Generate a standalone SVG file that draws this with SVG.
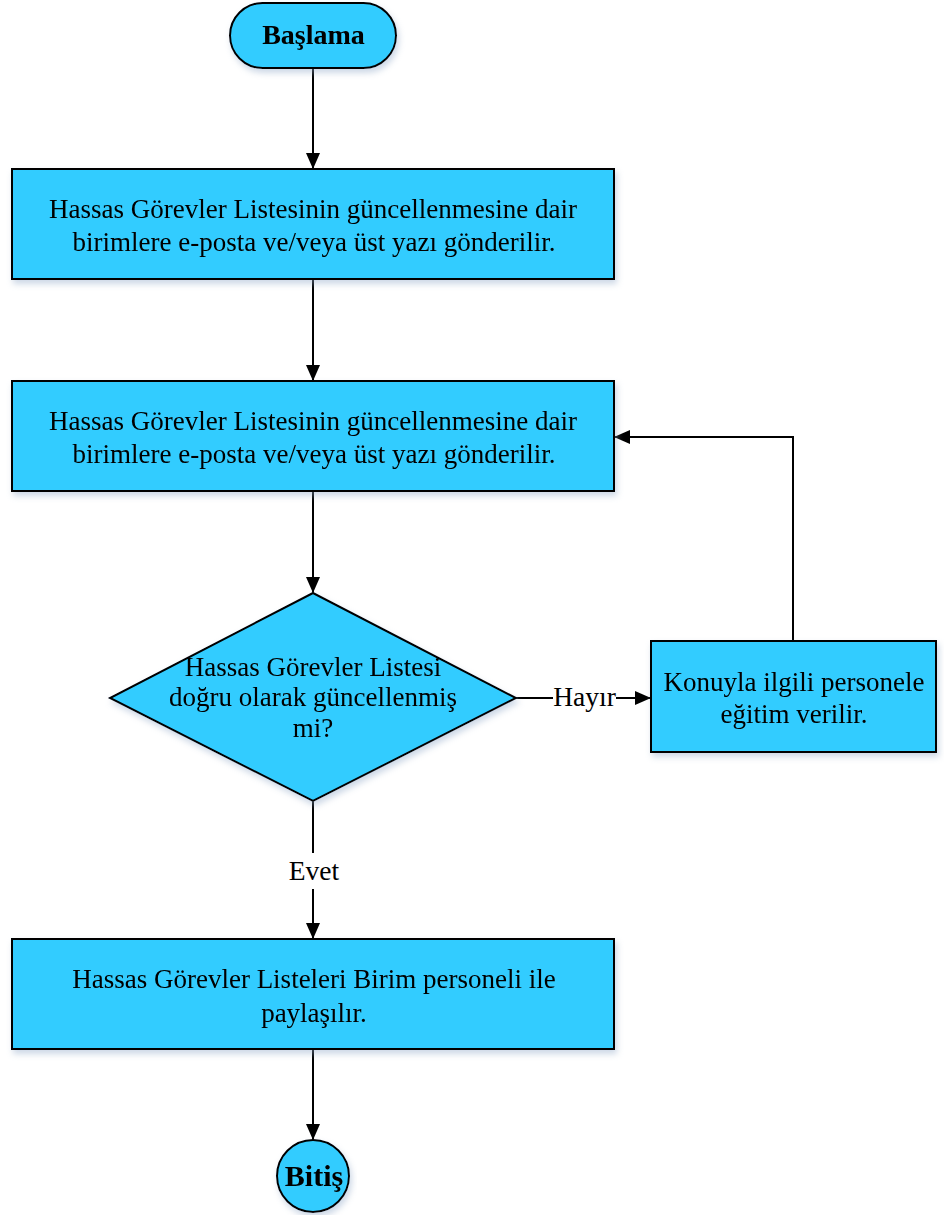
<svg xmlns="http://www.w3.org/2000/svg" width="944" height="1215" viewBox="0 0 944 1215">
<style>
.n{fill:#33CCFF;stroke:#000;stroke-width:2}
.t{font-family:"Liberation Serif",serif;font-size:27px;fill:#000;text-anchor:middle}
.b{font-weight:bold;font-size:28px}
.e{font-weight:bold;font-size:30px}
.c{fill:none;stroke:#000;stroke-width:2}
.l{font-family:"Liberation Serif",serif;font-size:27.5px;fill:#000;text-anchor:middle}
</style>
<defs>
<marker id="a" markerWidth="16" markerHeight="14" refX="15" refY="7" orient="auto" markerUnits="userSpaceOnUse" viewBox="0 0 16 14"><path d="M0,0 L16,7 L0,14 z" fill="#000"/></marker>
<filter id="s" x="-10%" y="-10%" width="120%" height="130%"><feDropShadow dx="2" dy="4" stdDeviation="3" flood-color="#8fa8c8" flood-opacity="0.45"/></filter>
</defs>
<g id="connectors">
<line class="c" x1="313" y1="68" x2="313" y2="168" marker-end="url(#a)"/>
<line class="c" x1="313" y1="279" x2="313" y2="380" marker-end="url(#a)"/>
<line class="c" x1="313" y1="491" x2="313" y2="592" marker-end="url(#a)"/>
<polyline class="c" points="516,698 553,698"/>
<polyline class="c" points="616,698 650,698" marker-end="url(#a)"/>
<text class="l" x="584.5" y="706">Hayır</text>
<polyline class="c" points="793,641 793,437 615,437" marker-end="url(#a)"/>
<line class="c" x1="313" y1="801" x2="313" y2="853"/>
<line class="c" x1="313" y1="889" x2="313" y2="938" marker-end="url(#a)"/>
<text class="l" x="314" y="880">Evet</text>
<line class="c" x1="313" y1="1049" x2="313" y2="1139" marker-end="url(#a)"/>
</g>
<g id="start" filter="url(#s)">
<rect class="n" x="230" y="3" width="166" height="65" rx="32.5"/>
<text class="t b" x="313.5" y="44">Başlama</text>
</g>
<g id="step1" filter="url(#s)">
<rect class="n" x="12" y="169" width="602" height="110"/>
<text class="t" x="313" y="218">Hassas Görevler Listesinin güncellenmesine dair</text>
<text class="t" x="314" y="251">birimlere e-posta ve/veya üst yazı gönderilir.</text>
</g>
<g id="step2" filter="url(#s)">
<rect class="n" x="12" y="381" width="602" height="110"/>
<text class="t" x="313" y="430">Hassas Görevler Listesinin güncellenmesine dair</text>
<text class="t" x="314" y="463">birimlere e-posta ve/veya üst yazı gönderilir.</text>
</g>
<g id="decision" filter="url(#s)">
<polygon class="n" points="313,593 516,698 313,801 110,698"/>
<text class="t" x="313" y="676">Hassas Görevler Listesi</text>
<text class="t" x="313" y="706">doğru olarak güncellenmiş</text>
<text class="t" x="313" y="737">mi?</text>
</g>
<g id="training" filter="url(#s)">
<rect class="n" x="651" y="641" width="285" height="111"/>
<text class="t" x="794" y="691">Konuyla ilgili personele</text>
<text class="t" x="794" y="723">eğitim verilir.</text>
</g>
<g id="share" filter="url(#s)">
<rect class="n" x="12" y="939" width="602" height="110"/>
<text class="t" x="314" y="988">Hassas Görevler Listeleri Birim personeli ile</text>
<text class="t" x="314" y="1022">paylaşılır.</text>
</g>
<g id="end" filter="url(#s)">
<circle class="n" cx="313" cy="1176" r="36"/>
<text class="t e" x="314" y="1186">Bitiş</text>
</g>
</svg>
